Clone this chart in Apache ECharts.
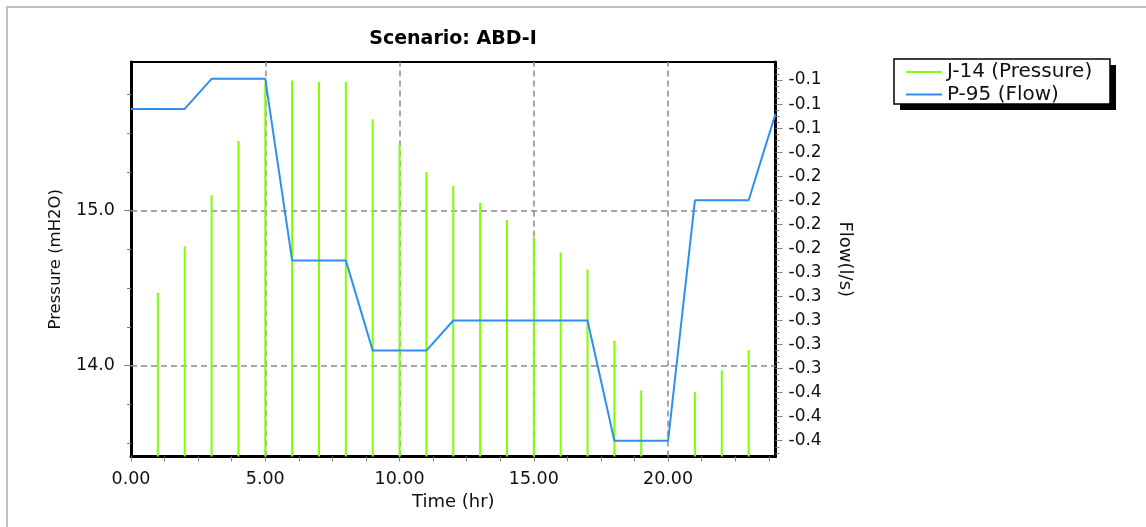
<!DOCTYPE html>
<html><head><meta charset="utf-8">
<script src="https://cdn.jsdelivr.net/npm/echarts@6/dist/echarts.min.js"></script>
<style>html,body{margin:0;padding:0;background:#fff}#c{width:1146px;height:527px}</style>
</head><body><div id="c"></div>
<script>
const titleText = 'Scenario: ABD-I';
const pressureName = 'J-14 (Pressure)';
const flowName = 'P-95 (Flow)';
const pressureHours = [1,2,3,4,5,6,7,8,9,10,11,12,13,14,15,16,17,18,19,21,22,23];
const pressureValues = [14.47,14.77,15.10,15.45,15.82,15.84,15.83,15.83,15.59,15.42,15.25,15.16,15.05,14.94,14.83,14.73,14.62,14.16,13.84,13.83,13.97,14.10];
const flowHours = [0,1,2,3,4,5,6,7,8,9,10,11,12,13,14,15,16,17,18,19,20,21,22,23,24];
const flowValues = [-0.124,-0.124,-0.124,-0.099,-0.099,-0.099,-0.250,-0.250,-0.250,-0.325,-0.325,-0.325,-0.300,-0.300,-0.300,-0.300,-0.300,-0.300,-0.400,-0.400,-0.400,-0.200,-0.200,-0.200,-0.128];
const timeTicks = [0,5,10,15,20];
const timeMinorTicks = [0,1.25,2.5,3.75,5,6.25,7.5,8.75,10,11.25,12.5,13.75,15,16.25,17.5,18.75,20,21.25,22.5,23.75];
const pressureTicks = [14.0,15.0];
const pressureMinorTicks = [13.5,13.75,14.25,14.5,14.75,15.25,15.5,15.75];
const flowTicks = [-0.10,-0.12,-0.14,-0.16,-0.18,-0.20,-0.22,-0.24,-0.26,-0.28,-0.30,-0.32,-0.34,-0.36,-0.38,-0.40];

const timeMin = 0, timeMax = 24;
const pMin = 13.414, pMax = 15.959;
const fMin = -0.4131, fMax = -0.085;
const flowMinorTicks = [];
for (let i = 0; i < flowTicks.length - 1; i++) {
  for (let k = 1; k < 4; k++) flowMinorTicks.push(flowTicks[i] + (flowTicks[i+1]-flowTicks[i]) * k / 4);
}
flowMinorTicks.push(flowTicks[0] + 0.005, flowTicks[0] + 0.01, flowTicks[flowTicks.length-1] - 0.005, flowTicks[flowTicks.length-1] - 0.01);

const FONT = 'DejaVu Sans';
const tickColor = '#808080';
const chart = echarts.init(document.getElementById('c'), null, {renderer: 'canvas'});
chart.setOption({
  animation: false,
  backgroundColor: '#ffffff',
  graphic: [
    {type: 'rect', shape: {x: 7, y: 7, width: 1200, height: 600}, style: {fill: 'none', stroke: '#c4c0b6', lineWidth: 2}, silent: true, z: 0},
    {type: 'text', x: 453, y: 39, style: {text: titleText, font: 'bold 19px "DejaVu Sans"', fill: '#000', textAlign: 'center', textVerticalAlign: 'middle'}, z: 10},
    {type: 'rect', shape: {x: 900, y: 65, width: 216, height: 45}, style: {fill: '#000'}, silent: true, z: 5},
    {type: 'rect', shape: {x: 894, y: 59, width: 216, height: 45}, style: {fill: '#fff', stroke: '#000', lineWidth: 1.5}, silent: true, z: 6}
  ],
  grid: {left: 131, right: 370.5, top: 62, bottom: 70.5, show: true, borderColor: '#000', borderWidth: 2, backgroundColor: 'transparent'},
  legend: {
    orient: 'vertical', left: 894, top: 59, padding: [3, 10, 2, 12], itemGap: 2.6,
    itemWidth: 36, itemHeight: 2, icon: 'rect', z: 10,
    textStyle: {fontFamily: FONT, fontSize: 20, color: '#111'},
    data: [pressureName, flowName]
  },
  xAxis: {
    type: 'value', min: timeMin, max: timeMax,
    name: 'Time (hr)', nameLocation: 'middle', nameGap: 35,
    nameTextStyle: {fontFamily: FONT, fontSize: 18, color: '#111'},
    axisLine: {show: true, onZero: false, lineStyle: {color: '#000', width: 3}},
    axisTick: {show: true, length: 5, customValues: timeMinorTicks, lineStyle: {color: tickColor}},
    axisLabel: {customValues: timeTicks, margin: 14, fontFamily: FONT, fontSize: 17.5, color: '#111', formatter: v => Number(v).toFixed(2)},
    splitLine: {show: false}
  },
  yAxis: [
    {
      type: 'value', position: 'left', min: pMin, max: pMax,
      name: 'Pressure (mH2O)', nameLocation: 'middle', nameGap: 67,
      nameTextStyle: {fontFamily: FONT, fontSize: 16.5, color: '#111'},
      axisLine: {show: true, lineStyle: {color: '#000', width: 3}},
      axisTick: {show: true, length: 7, customValues: pressureTicks, lineStyle: {color: tickColor}},
      axisLabel: {customValues: pressureTicks, margin: 16, fontFamily: FONT, fontSize: 17.5, color: '#111', formatter: v => Number(v).toFixed(1)},
      splitLine: {show: false}
    },
    {
      type: 'value', position: 'right', min: fMin, max: fMax,
      name: 'Flow(l/s)', nameLocation: 'middle', nameGap: 60, nameRotate: -90,
      nameTextStyle: {fontFamily: FONT, fontSize: 18, color: '#111'},
      axisLine: {show: true, lineStyle: {color: '#000', width: 3}},
      axisTick: {show: true, length: 7, customValues: flowTicks, lineStyle: {color: tickColor}},
      axisLabel: {customValues: flowTicks, margin: 13, fontFamily: FONT, fontSize: 17, color: '#111', formatter: v => Number(v).toFixed(1)},
      splitLine: {show: false}
    },
    {
      type: 'value', position: 'right', min: fMin, max: fMax,
      axisLine: {show: false}, axisLabel: {show: false}, splitLine: {show: false},
      axisTick: {show: true, length: 4, customValues: flowMinorTicks, lineStyle: {color: tickColor}}
    },
    {
      type: 'value', position: 'left', min: pMin, max: pMax,
      axisLine: {show: false}, axisLabel: {show: false}, splitLine: {show: false},
      axisTick: {show: true, length: 4, customValues: pressureMinorTicks, lineStyle: {color: tickColor}}
    }
  ],
  series: [
    {
      name: pressureName, type: 'bar', xAxisIndex: 0, yAxisIndex: 0,
      barWidth: 2, itemStyle: {color: '#7fff00'}, z: 2,
      data: pressureHours.map((h, i) => [h, pressureValues[i]]),
      markLine: {
        silent: true, symbol: 'none', z: 1, animation: false,
        label: {show: false},
        lineStyle: {color: '#8a8a8a', type: [6, 4], width: 1.5},
        data: pressureTicks.map(v => ({yAxis: v})).concat(timeTicks.filter(v => v > timeMin).map(v => ({xAxis: v})))
      }
    },
    {
      name: flowName, type: 'line', xAxisIndex: 0, yAxisIndex: 1,
      symbol: 'none', z: 3,
      lineStyle: {color: '#2e8ff0', width: 2}, itemStyle: {color: '#2e8ff0'},
      data: flowHours.map((h, i) => [h, flowValues[i]])
    }
  ]
});
</script></body></html>
